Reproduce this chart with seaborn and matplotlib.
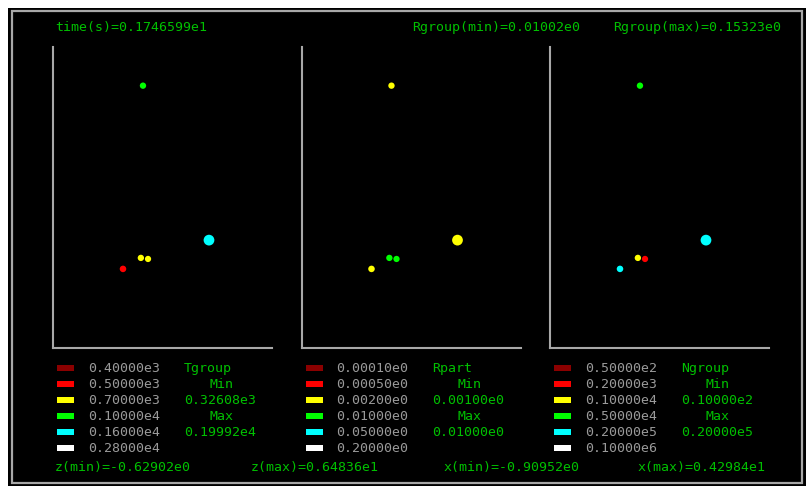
import numpy as np
import pandas as pd
import matplotlib
matplotlib.use("Agg")
import matplotlib.pyplot as plt
from matplotlib.patches import Rectangle
import seaborn as sns

# ---- particle groups (position in x/z plane and per-group properties) ----
group_x = [1.23, 0.755, 1.18, 1.35, 2.80]
group_z = [5.57, 1.24, 1.50, 1.475, 1.92]
group_rgroup = [0.020, 0.024, 0.020, 0.018, 0.15323]
group_tgroup = [850.0, 450.0, 620.0, 680.0, 1450.0]
group_rpart = [0.001, 0.001, 0.01, 0.01, 0.001]
group_ngroup = [3000.0, 20000.0, 500.0, 100.0, 20000.0]

# ---- colour-class thresholds and their labels ----
t_levels = [400.0, 500.0, 700.0, 1000.0, 1600.0, 2800.0]
t_labels = ["0.40000e3", "0.50000e3", "0.70000e3", "0.10000e4", "0.16000e4", "0.28000e4"]
r_levels = [0.0001, 0.0005, 0.002, 0.01, 0.05, 0.2]
r_labels = ["0.00010e0", "0.00050e0", "0.00200e0", "0.01000e0", "0.05000e0", "0.20000e0"]
n_levels = [50.0, 200.0, 1000.0, 5000.0, 20000.0, 100000.0]
n_labels = ["0.50000e2", "0.20000e3", "0.10000e4", "0.50000e4", "0.20000e5", "0.10000e6"]

# ---- header / footer values ----
time_s = "0.1746599e1"
rgroup_min = "0.01002e0"
rgroup_max = "0.15323e0"
z_min, z_max = -0.62902, 6.4836
x_min, x_max = -0.90952, 4.2984
z_min_txt, z_max_txt = "-0.62902e0", "0.64836e1"
x_min_txt, x_max_txt = "-0.90952e0", "0.42984e1"

# ---- per-panel ranges ----
t_range = ("0.32608e3", "0.19992e4")
r_range = ("0.00100e0", "0.01000e0")
n_range = ("0.10000e2", "0.20000e5")

class_colors = ["#8b0000", "#ff0000", "#ffff00", "#00ff00", "#00ffff", "#ffffff"]
GREEN = "#00c000"
GREY = "#9a9a9a"
AXIS = "#a8a8a8"
FONT = dict(family="DejaVu Sans Mono", fontsize=9.5)

W, H = 808, 486
sns.set_theme(style="dark")
plt.rcParams["font.family"] = ["DejaVu Sans Mono", "DejaVu Sans"]

fig = plt.figure(figsize=(W / 100, H / 100), dpi=100, facecolor="white")


def fx(x):
    return x / W


def fy(y):
    return 1 - y / H


# black screen with grey frame
fig.patches.append(Rectangle((fx(8), fy(486)), fx(806) - fx(8), fy(8) - fy(486),
                             transform=fig.transFigure, facecolor="black",
                             edgecolor="none", zorder=-10))
fig.patches.append(Rectangle((fx(12), fy(483)), fx(802) - fx(12), fy(11) - fy(483),
                             transform=fig.transFigure, facecolor="none",
                             edgecolor=AXIS, linewidth=1.6, zorder=-5))

df = pd.DataFrame({"x": group_x, "z": group_z, "rgroup": group_rgroup,
                   "Tgroup": group_tgroup, "Rpart": group_rpart, "Ngroup": group_ngroup})

panels = [
    ("Tgroup", t_levels, t_labels, t_range, 53),
    ("Rpart", r_levels, r_labels, r_range, 301.5),
    ("Ngroup", n_levels, n_labels, n_range, 550),
]

ax_w, ax_top, ax_bot = 219, 47, 348

for name, levels, labels, rng, left in panels:
    ax = fig.add_axes([fx(left), fy(ax_bot), fx(ax_w), fy(ax_top) - fy(ax_bot)])
    ax.set_zorder(5)
    ax.set_facecolor("none")
    ax.patch.set_alpha(0)
    cls = np.searchsorted(levels, df[name].values, side="left")
    sub = df.assign(cls=[labels[min(c, len(labels) - 1)] for c in cls])
    palette = {lab: col for lab, col in zip(labels, class_colors)}
    sns.scatterplot(data=sub, x="x", y="z", hue="cls", palette=palette,
                    size="rgroup", sizes=(18, 60), size_norm=(0.01002, 0.15323),
                    linewidth=0, legend=False, ax=ax, zorder=3)
    ax.set_xlim(x_min, x_max)
    ax.set_ylim(z_min, z_max)
    ax.set_xticks([])
    ax.set_yticks([])
    ax.set_xlabel("")
    ax.set_ylabel("")
    ax.grid(False)
    for s in ("top", "right"):
        ax.spines[s].set_visible(False)
    for s in ("left", "bottom"):
        ax.spines[s].set_visible(True)
        ax.spines[s].set_color(AXIS)
        ax.spines[s].set_linewidth(1.5)

    # colour key
    sw_x = left + 4
    val_x = left + 35
    lab_x = left + 131
    rows = [368, 384, 400, 416, 432, 448]
    for yy, lab, col in zip(rows, labels, class_colors):
        fig.patches.append(Rectangle((fx(sw_x), fy(yy + 3)), fx(17), fy(0) - fy(6),
                                     transform=fig.transFigure, facecolor=col,
                                     edgecolor="none", zorder=2))
        fig.text(fx(val_x), fy(yy), lab, color=GREY, va="center", ha="left", **FONT)
    fig.text(fx(lab_x), fy(rows[0]), name, color=GREEN, va="center", ha="left", **FONT)
    fig.text(fx(lab_x + 37), fy(rows[1]), "Min", color=GREEN, va="center", ha="center", **FONT)
    fig.text(fx(lab_x), fy(rows[2]), rng[0], color=GREEN, va="center", ha="left", **FONT)
    fig.text(fx(lab_x + 37), fy(rows[3]), "Max", color=GREEN, va="center", ha="center", **FONT)
    fig.text(fx(lab_x), fy(rows[4]), rng[1], color=GREEN, va="center", ha="left", **FONT)

# header
fig.text(fx(55), fy(28), f"time(s)={time_s}", color=GREEN, va="center", ha="left", **FONT)
fig.text(fx(412), fy(28), f"Rgroup(min)={rgroup_min}", color=GREEN, va="center", ha="left", **FONT)
fig.text(fx(613), fy(28), f"Rgroup(max)={rgroup_max}", color=GREEN, va="center", ha="left", **FONT)

# footer
fig.text(fx(55), fy(468), f"z(min)={z_min_txt}", color=GREEN, va="center", ha="left", **FONT)
fig.text(fx(251), fy(468), f"z(max)={z_max_txt}", color=GREEN, va="center", ha="left", **FONT)
fig.text(fx(443), fy(468), f"x(min)={x_min_txt}", color=GREEN, va="center", ha="left", **FONT)
fig.text(fx(637), fy(468), f"x(max)={x_max_txt}", color=GREEN, va="center", ha="left", **FONT)

fig.savefig("out.png", dpi=100, facecolor="white")
